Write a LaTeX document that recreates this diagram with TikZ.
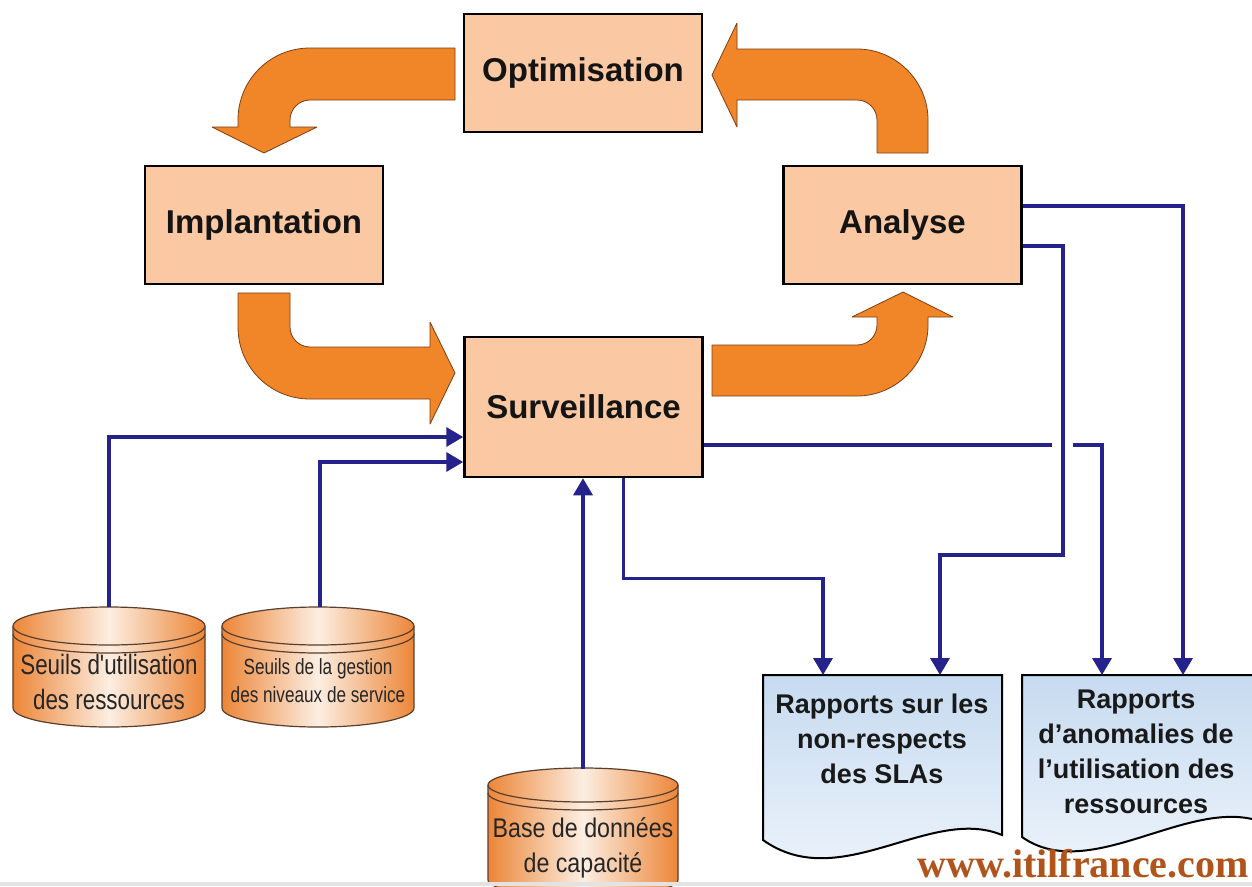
\documentclass[tikz,border=0pt]{standalone}
\usepackage{fontspec}
\setmainfont{Liberation Sans}
\newfontfamily\narrowA[FakeStretch=0.80]{Liberation Sans}
\newfontfamily\narrowB[FakeStretch=0.78]{Liberation Sans}
\newfontfamily\narrowC[FakeStretch=0.86]{Liberation Sans}
\newfontfamily\wmserif{Liberation Serif}
\usetikzlibrary{arrows.meta}
\definecolor{boxfill}{RGB}{250,200,162}
\definecolor{orangeA}{RGB}{240,134,40}
\definecolor{orangeEdge}{RGB}{125,62,20}
\definecolor{flowblue}{RGB}{38,34,140}
\definecolor{cylorange}{RGB}{236,134,56}
\definecolor{cyllight}{RGB}{252,238,226}
\definecolor{cyledgecol}{RGB}{90,62,45}
\definecolor{docTop}{RGB}{198,218,240}
\definecolor{docBot}{RGB}{240,246,252}
\definecolor{wmorange}{RGB}{176,84,28}
\newcommand\mycyl[5]{%
  \pgfmathsetmacro\cylcx{(#1+#2)/2}%
  \pgfmathsetmacro\cylrx{(#2-#1)/2}%
  \pgfmathsetmacro\cylkx{0.5523*\cylrx}%
  \pgfmathsetmacro\cylky{0.5523*#4}%
  \path[cylbody, cyloutline] (#1,#3) -- (#1,#5) .. controls (#1,#5+\cylky) and (\cylcx-\cylkx,#5+#4) .. (\cylcx,#5+#4) .. controls (\cylcx+\cylkx,#5+#4) and (#2,#5+\cylky) .. (#2,#5) -- (#2,#3);
  \path[cylbody, cyloutline] (\cylcx,#3) ellipse [x radius=\cylrx, y radius=#4];
  \draw[cyloutline] (#1,#3+8) .. controls (#1,#3+8+\cylky) and (\cylcx-\cylkx,#3+8+#4) .. (\cylcx,#3+8+#4) .. controls (\cylcx+\cylkx,#3+8+#4) and (#2,#3+8+\cylky) .. (#2,#3+8);
}
\begin{document}
\begin{tikzpicture}[x=1pt,y=-1pt,
  box/.style={draw=black, line width=2.5pt, fill=boxfill, minimum width=238pt, minimum height=118pt, inner sep=0pt, font=\fontsize{33}{38}\selectfont\bfseries, text=black!92},
  blockarrow/.style={fill=orangeA, draw=orangeEdge, line width=0.8pt, line join=round},
  flow/.style={draw=flowblue, line width=3.5pt, -{Triangle[length=17pt,width=19pt]}},
  cylbody/.style={left color=cylorange, right color=cylorange, middle color=cyllight},
  cyloutline/.style={draw=cyledgecol, line width=1.2pt},
  doc/.style={draw=black, line width=2pt, top color=docTop, bottom color=docBot},
  doctext/.style={font=\fontsize{27}{35}\selectfont\bfseries, align=center, text=black!90, inner sep=0pt},
  cyltext/.style={align=center, text=black!85, inner sep=0pt}]
\useasboundingbox (0,0) rectangle (1252,886);
\clip (0,0) rectangle (1252,886);
\fill[white] (0,0) rectangle (1252,886);

% orange block arrows
\path[blockarrow] (455,48) -- (310,48) .. controls (270,48) and (238,80) .. (238,120) -- (238,127) -- (212,127) -- (264,153) -- (317,127) -- (290,127) -- (290,120) .. controls (290,109) and (299,100) .. (310,100) -- (455,100) -- cycle;
\path[blockarrow] (877,153) -- (928,153) -- (928,120) .. controls (928,81) and (896,49) .. (857,49) -- (737,49) -- (737,23) -- (712,75) -- (737,127) -- (737,100) -- (857,100) .. controls (868,100) and (877,109) .. (877,120) -- cycle;
\path[blockarrow] (238,293) -- (290,293) -- (290,327) .. controls (290,338) and (299,347) .. (310,347) -- (430,347) -- (430,322) -- (455,373) -- (430,424) -- (430,399) -- (310,399) .. controls (270,399) and (238,367) .. (238,327) -- cycle;
\path[blockarrow] (712,345) -- (857,345) .. controls (868,345) and (877,336) .. (877,325) -- (877,317) -- (852,317) -- (903,292) -- (953,317) -- (928,317) -- (928,325) .. controls (928,364) and (896,396) .. (857,396) -- (712,396) -- cycle;

% process boxes
\node[box] (opt) at (583,73) {Optimisation};
\node[box] (impl) at (264,225) {Implantation};
\node[box] (ana) at (902.5,225) {Analyse};
\node[box, minimum height=140pt] (surv) at (583.5,407) {Surveillance};

% cylinders
\mycyl{13}{205}{626}{19}{708}
\mycyl{222}{414}{626}{19}{708}
\mycyl{488}{678}{785}{17}{880}
\node[cyltext, font=\narrowA\fontsize{28}{35}\selectfont] (cyl1) at (109,682) {Seuils d'utilisation\\des ressources};
\node[cyltext, font=\narrowB\fontsize{22}{28}\selectfont] (cyl2) at (318,681) {Seuils de la gestion\\des niveaux de service};
\node[cyltext, font=\narrowC\fontsize{27}{35}\selectfont] (cyl3) at (583,848) {Base de données\\de capacité};
\coordinate (c1top) at (109,607);
\coordinate (c2top) at (320,607);
\coordinate (c3top) at (583,769);

% documents
\path[doc] (763,675) -- (1002,675) -- (1002,835) .. controls (930,805) and (840,895) .. (763,840) -- cycle;
\path[doc] (1022,675) -- (1262,675) -- (1262,822) .. controls (1190,795) and (1090,885) .. (1022,837) -- cycle;
\node[doctext] (doc1) at (882,739) {Rapports sur les\\non-respects\\des SLAs};
\node[doctext] (doc2) at (1136,752) {Rapports\\d'anomalies de\\l'utilisation des\\ressources};
\coordinate (d1a) at (823,675);
\coordinate (d1b) at (940,675);
\coordinate (d2a) at (1102,675);
\coordinate (d2b) at (1183,675);
\coordinate (jumpL) at (1052,445);
\coordinate (jumpR) at (1073,445);

% blue flows
\draw[flow] (c1top) |- ([yshift=-30pt]surv.west);
\draw[flow] (c2top) |- ([yshift=-55pt]surv.west);
\draw[flow] (c3top) -- (c3top |- surv.south);
\draw[flow] ([xshift=40pt]surv.south) -- ++(0,100) -| (d1a);
\draw[flow] ([yshift=-38pt]surv.east) -- (jumpL) (jumpR) -| (d2a);
\draw[flow] ([yshift=-21pt]ana.east) -- ++(40,0) -- ++(0,309) -| (d1b);
\draw[flow] ([yshift=19pt]ana.east) -| (d2b);

% watermark
\fill[gray!22] (0,882) rectangle (1252,886);
\node[anchor=base east, inner sep=0pt, text=wmorange, font=\wmserif\bfseries\fontsize{40}{40}\selectfont] (wm) at (1249,877) {www.itilfrance.com};
\end{tikzpicture}
\end{document}
